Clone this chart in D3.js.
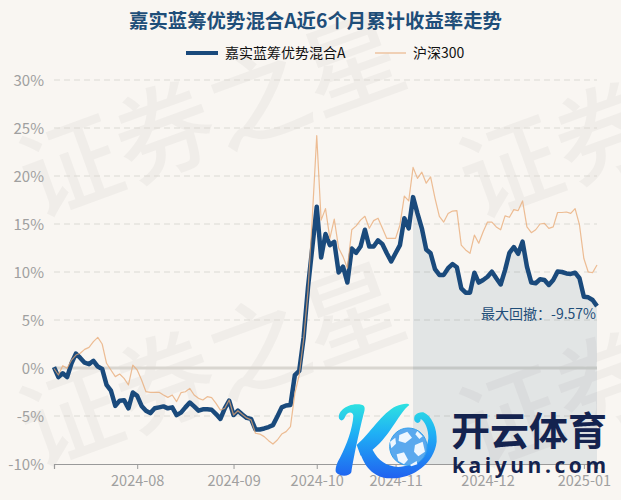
<!DOCTYPE html>
<html><head><meta charset="utf-8">
<script src="https://cdn.jsdelivr.net/npm/d3@7/dist/d3.min.js"></script>
<style>html,body{margin:0;padding:0;background:#f9f6f2}svg{display:block}</style>
</head><body><svg id="c" width="621" height="500"></svg>
<script>
const FONT = '"Noto Sans CJK SC","Noto Sans",sans-serif';
const chartTitle = '嘉实蓝筹优势混合A近6个月累计收益率走势';
const fundName = '嘉实蓝筹优势混合A';
const indexName = '沪深300';
const drawdownLabel = '最大回撤\uFF1A-9.57%';
const yTicks = [-10,-5,0,5,10,15,20,25,30];
const tickLabels = ['2024-08','2024-09','2024-10','2024-11','2024-12','2025-01'];
const tickIndex = [19,41,60,78,99,121];
const drawdownStart = 82;
const fundValues = [
0.1,-0.95,-0.55,-0.95,0.5,1.5,1.05,0.55,0.4,0.75,
0.15,-0.1,-1.75,-2.35,-3.95,-3.4,-3.35,-4.2,-2.55,-2.9,
-3.95,-4.45,-4.7,-4.2,-4.1,-4.0,-4.2,-4.1,-4.9,-4.65,
-4.1,-3.6,-4.0,-4.45,-4.3,-4.3,-4.35,-4.8,-5.3,-4.2,
-3.4,-4.9,-4.45,-4.85,-5.2,-5.3,-6.4,-6.4,-6.3,-6.15,
-5.95,-5.05,-4.1,-3.9,-3.85,-0.75,-0.3,3.15,8.4,12.6,
16.8,11.5,13.95,12.8,13.15,9.95,10.55,8.9,12.45,12.0,
12.65,14.4,12.65,12.65,13.3,12.9,11.95,11.1,11.95,12.8,
15.6,14.55,17.8,16.1,14.55,12.35,11.95,10.3,9.7,9.7,
10.4,10.83,10.5,8.3,7.85,7.85,9.93,8.9,9.17,9.5,
10.04,9.35,8.7,10.2,12.0,12.6,11.9,13.16,10.56,8.9,
8.83,9.24,9.17,8.65,9.17,10.04,10.0,9.85,9.8,9.93,
9.35,7.43,7.36,7.08,6.45];
const indexValues = [
-0.05,-0.73,0.24,-0.03,0.83,1.35,1.53,1.94,2.15,2.74,
3.19,2.5,0.49,-0.21,-0.9,-0.63,-1.08,-1.77,0.31,-0.21,
-1.25,-2.47,-2.53,-2.53,-2.53,-2.81,-3.06,-2.81,-3.5,-2.57,
-2.47,-2.12,-2.81,-3.16,-3.33,-2.99,-3.09,-3.68,-4.38,-4.2,
-3.33,-4.9,-4.45,-4.85,-5.2,-5.4,-6.8,-6.88,-7.15,-7.57,
-7.92,-7.5,-6.88,-6.63,-6.1,-2.64,-0.73,3.0,8.0,15.8,
24.2,15.4,16.6,13.5,15.5,12.5,11.6,10.4,14.4,14.8,
15.4,15.8,14.55,15.35,15.6,14.55,13.5,13.5,13.5,14.9,
17.9,17.4,20.9,19.75,20.4,19.25,19.9,17.7,15.8,15.2,
16.1,16.35,16.4,12.8,12.3,11.95,13.85,13.0,14.2,15.2,
15.2,14.7,14.4,15.85,15.7,16.5,16.4,17.4,14.7,14.1,
14.4,15.0,15.07,14.55,14.7,16.2,16.2,16.25,16.1,16.6,
14.9,11.4,10.0,9.93,10.73];

const svg = d3.select('#c').style('font-family', FONT);
svg.append('rect').attr('width',621).attr('height',500).attr('fill','#f9f6f2');

// watermark
const wm = svg.append('g').attr('fill','#000').attr('fill-opacity',0.036).attr('font-weight',500);
[[36,218],[36,468],[476,219],[476,469]].forEach(([x,y])=>{
  wm.append('text').attr('transform',`translate(${x},${y}) rotate(-20)`)
    .attr('font-size',100).text('证券之星');
});

const x = d3.scaleLinear().domain([0,fundValues.length-1]).range([54,597]);
const y = d3.scaleLinear().domain([-10,30]).range([464,80]);
const line = d3.line().x((d,i)=>x(i)).y(d=>y(d));

// grid
svg.append('g').selectAll('line').data(yTicks.filter(d=>d!==-10)).join('line')
  .attr('x1',54).attr('x2',597).attr('y1',d=>y(d)).attr('y2',d=>y(d))
  .attr('stroke',d=>d===0?'#d9d6d0':'#dcd9d4')
  .attr('stroke-width',d=>d===0?3:1.2)
  .attr('stroke-dasharray',d=>d===0?null:'6,4');

// y axis labels
const ya = svg.append('g').attr('transform','translate(44,1)')
  .call(d3.axisLeft(y).tickValues(yTicks).tickSize(0).tickPadding(0).tickFormat(d=>d+'%'));
ya.select('.domain').remove();
ya.selectAll('text').attr('fill','#a0a0a0').attr('font-size',15).attr('font-family',FONT);

// x axis
const xa = svg.append('g').attr('transform','translate(0,464)')
  .call(d3.axisBottom(x).tickValues(tickIndex).tickSize(5).tickPadding(7)
    .tickFormat((d,i)=>tickLabels[i]));
xa.select('.domain').attr('stroke','#9a9a9a').attr('stroke-width',1.2);
xa.selectAll('line').attr('stroke','#9a9a9a');
xa.selectAll('text').attr('fill','#a0a0a0').attr('font-size',14.5).attr('font-family',FONT);

// drawdown area
const area = d3.area().x(d=>x(d.i)).y0(y(-10)).y1(d=>y(d.v));
svg.append('path')
  .attr('d',area(fundValues.map((v,i)=>({i,v})).filter(d=>d.i>=drawdownStart)))
  .attr('fill','#1f4e79').attr('fill-opacity',0.1);

// lines
svg.append('path').attr('d',line(fundValues)).attr('fill','none')
  .attr('stroke','#1a4a7c').attr('stroke-width',4.5).attr('stroke-linejoin','round');
svg.append('path').attr('d',line(indexValues)).attr('fill','none')
  .attr('stroke','#e8a873').attr('stroke-width',1.2).attr('stroke-opacity',0.75).attr('stroke-linejoin','round');

// drawdown label
svg.append('text').attr('x',596).attr('y',319).attr('text-anchor','end')
  .attr('font-size',14).attr('fill','#1f4e79').text(drawdownLabel);

// title
svg.append('text').attr('x',315.5).attr('y',28).attr('text-anchor','middle')
  .attr('font-size',19.4).attr('font-weight',700).attr('fill','#1f4e79').text(chartTitle);

// legend
const lg = svg.append('g');
lg.append('line').attr('x1',186).attr('x2',218).attr('y1',53).attr('y2',53).attr('stroke','#1a4a7c').attr('stroke-width',4);
lg.append('text').attr('x',225).attr('y',58).attr('font-size',14).attr('fill','#111').text(fundName);
lg.append('line').attr('x1',375).attr('x2',406).attr('y1',53).attr('y2',53).attr('stroke','#e9b78c').attr('stroke-width',1.2);
lg.append('text').attr('x',413).attr('y',58).attr('font-size',14).attr('fill','#111').text(indexName);

// logo
const defs = svg.append('defs');
const g1 = defs.append('linearGradient').attr('id','kg').attr('gradientUnits','userSpaceOnUse').attr('x1',0).attr('y1',25).attr('x2',0).attr('y2',250);
g1.append('stop').attr('offset','0').attr('stop-color','#2fe3e0');
g1.append('stop').attr('offset','0.4').attr('stop-color','#1fb0f5');
g1.append('stop').attr('offset','1').attr('stop-color','#2061f0');
const logo = svg.append('g').attr('transform','translate(330,395) scale(0.3333)');
const kPaths = [
 'M28 72 C20 52 50 24 88 28 C108 30 106 42 100 60 C90 100 72 180 64 232 C58 246 28 246 18 232 C14 222 22 200 30 188 C50 150 68 100 70 62 C68 48 52 50 46 64 C42 76 34 80 28 72 Z',
 'M80 150 C118 118 158 52 198 34 C216 26 236 24 238 30 C205 55 178 130 118 172 L92 182 Z',
 'M85 155 C105 150 120 148 128 165 C145 198 170 214 205 216 C250 216 290 180 295 130 C296 105 285 78 272 72 C272 84 262 88 254 78 C248 62 262 50 280 52 C305 62 322 100 320 140 C312 205 250 252 180 250 C130 248 100 215 85 155 Z'
];
logo.selectAll('path.k').data(kPaths).join('path').attr('class','k').attr('d',d=>d).attr('fill','url(#kg)');
logo.append('circle').attr('cx',235).attr('cy',155).attr('r',56).attr('fill','#5aa9ee').attr('stroke','#35a0ec').attr('stroke-width',3);
const patches = ['M208 120 L232 110 L246 128 L226 144 L206 138 Z','M255 150 L278 140 L285 170 L265 184 L252 170 Z','M200 178 L222 172 L234 194 L222 208 L205 198 Z','M262 108 L278 124 L268 132 L256 118 Z','M180 140 L196 128 L198 146 L184 160 Z','M240 210 L260 198 L262 208 L244 214 Z'];
logo.selectAll('path.p').data(patches).join('path').attr('class','p').attr('d',d=>d).attr('fill','#eef7ff');
svg.append('text').attr('x',451).attr('y',445).attr('font-size',39).attr('font-weight',700).attr('fill','#14234f').attr('textLength',156).text('开云体育');
svg.append('text').attr('x',452).attr('y',473).attr('font-size',21).attr('font-weight',700).attr('font-family','"Open Sans",sans-serif').attr('fill','#14234f').attr('textLength',154).text('kaiyun.com');
</script></body></html>
